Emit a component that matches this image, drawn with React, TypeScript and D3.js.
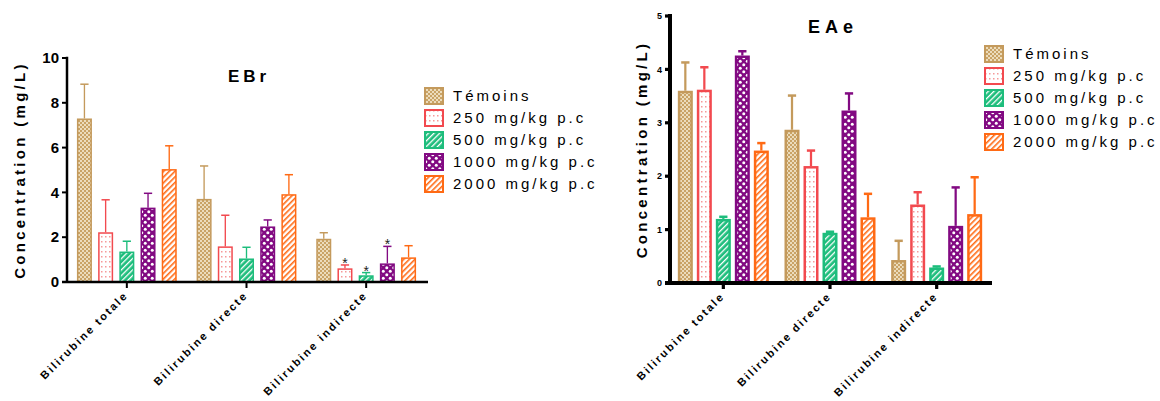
import React from 'react';
import * as d3 from 'd3';

const categories = ['Bilirubine totale', 'Bilirubine directe', 'Bilirubine indirecte'];
const seriesNames = ['Témoins', '250 mg/kg p.c', '500 mg/kg p.c', '1000 mg/kg p.c', '2000 mg/kg p.c'];

// one row per category, one value per series
const ebrMeans = [
  [7.3, 2.22, 1.36, 3.32, 5.04],
  [3.71, 1.59, 1.05, 2.48, 3.92],
  [1.93, 0.61, 0.3, 0.83, 1.1],
];
const ebrErrors = [
  [1.53, 1.45, 0.46, 0.64, 1.04],
  [1.47, 1.39, 0.5, 0.29, 0.87],
  [0.27, 0.15, 0.12, 0.76, 0.52],
];
const ebrStars = [[], [], [1, 2, 3]];
const ebrTicks = [0, 2, 4, 6, 8, 10];

const eaeMeans = [
  [3.6, 3.62, 1.2, 4.26, 2.48],
  [2.87, 2.19, 0.94, 3.23, 1.23],
  [0.43, 1.47, 0.29, 1.07, 1.29],
];
const eaeErrors = [
  [0.53, 0.42, 0.04, 0.08, 0.14],
  [0.64, 0.29, 0.02, 0.32, 0.44],
  [0.36, 0.23, 0.02, 0.72, 0.69],
];
const eaeStars = [[], [], []];
const eaeTicks = [0, 1, 2, 3, 4, 5];

const strokes = ['#c49a5c', '#f24a4f', '#1dbd7c', '#820a82', '#ff6a14'];
const font = '"Liberation Sans", Arial, sans-serif';

function Patterns() {
  return (
    <defs>
      <pattern id="p0" width="4" height="4" patternUnits="userSpaceOnUse">
        <rect width="4" height="4" fill="#c9a366" />
        <rect x="0" y="0" width="2" height="2" fill="#ecdcbc" />
        <rect x="2" y="2" width="2" height="2" fill="#ecdcbc" />
      </pattern>
      <pattern id="p1" width="4" height="5" patternUnits="userSpaceOnUse">
        <rect width="4" height="5" fill="#fff" />
        <rect x="1" y="1" width="1.5" height="1.5" fill="#f59a9a" />
      </pattern>
      <pattern id="p2" width="4" height="4" patternUnits="userSpaceOnUse" patternTransform="rotate(45)">
        <rect width="4" height="4" fill="#1dbd7c" />
        <rect x="0" y="0" width="1.3" height="4" fill="#ffffff" />
      </pattern>
      <pattern id="p3" width="7" height="7" patternUnits="userSpaceOnUse">
        <rect width="7" height="7" fill="#820a82" />
        <circle cx="1.75" cy="1.75" r="1.5" fill="#fff" />
        <circle cx="5.25" cy="5.25" r="1.5" fill="#fff" />
      </pattern>
      <pattern id="p4" width="4" height="4" patternUnits="userSpaceOnUse" patternTransform="rotate(45)">
        <rect width="4" height="4" fill="#fff" />
        <rect x="0" y="0" width="1.6" height="4" fill="#ff6a14" />
      </pattern>
    </defs>
  );
}

type ChartProps = {
  title: string;
  means: number[][];
  errors: number[][];
  stars: number[][];
  ticks: number[];
  left: number;
  right: number;
  top: number;
  bottom: number;
  pitch: number;
  barW: number;
  barStroke: number;
  axisW: number;
  tickFont: number;
  titleX: number;
  titleY: number;
  titleSize: number;
  titleSpacing: number;
  ylabelX: number;
  legendX: number;
  legendY: number;
};

function Chart(p: ChartProps) {
  const y = d3.scaleLinear().domain([0, p.ticks[p.ticks.length - 1]]).range([p.bottom, p.top]);
  const x0 = d3.scaleBand().domain(categories).range([p.left, p.right]);
  const pad = 1 - p.barW / p.pitch;
  const x1 = d3
    .scaleBand()
    .domain(seriesNames)
    .range([-2.5 * p.pitch, 2.5 * p.pitch])
    .paddingInner(pad)
    .paddingOuter(pad / 2);
  const bw = x1.bandwidth();
  const capW = p.barW * 0.55;

  return (
    <g fontFamily={font}>
      {/* bars */}
      {categories.map((c, ci) =>
        seriesNames.map((s, si) => {
          const cx = (x0(c) as number) + x0.bandwidth() / 2;
          const bx = cx + (x1(s) as number);
          const v = p.means[ci][si];
          const e = p.errors[ci][si];
          const mid = bx + bw / 2;
          const yTop = y(v + e);
          return (
            <g key={c + s}>
              <line x1={mid} x2={mid} y1={y(v)} y2={yTop} stroke={strokes[si]} strokeWidth={p.barStroke * 0.9} />
              <line x1={mid - capW / 2} x2={mid + capW / 2} y1={yTop} y2={yTop} stroke={strokes[si]} strokeWidth={p.barStroke} />
              <rect
                x={bx + p.barStroke / 2}
                y={y(v) + p.barStroke / 2}
                width={bw - p.barStroke}
                height={Math.max(0, y(0) - y(v) - p.barStroke / 2)}
                fill={`url(#p${si})`}
                stroke={strokes[si]}
                strokeWidth={p.barStroke}
              />
              {p.stars[ci].includes(si) && (
                <text x={mid} y={yTop + 3} textAnchor="middle" fontSize={14} fill="#222">
                  *
                </text>
              )}
            </g>
          );
        })
      )}

      {/* y axis */}
      <line x1={p.left} x2={p.left} y1={p.top - p.axisW / 2} y2={p.bottom} stroke="#000" strokeWidth={p.axisW} />
      {p.ticks.map((t) => (
        <g key={t} transform={`translate(${p.left},${y(t)})`}>
          <line x1={-5} x2={0} stroke="#000" strokeWidth={p.axisW * 0.8} />
          <text x={-8} dy="0.35em" textAnchor="end" fontSize={p.tickFont} fontWeight="bold">
            {t}
          </text>
        </g>
      ))}

      {/* x axis */}
      <line x1={p.left - 5} x2={p.right + 2} y1={p.bottom} y2={p.bottom} stroke="#000" strokeWidth={p.axisW} />
      {categories.map((c) => {
        const cx = (x0(c) as number) + x0.bandwidth() / 2;
        return (
          <g key={c} transform={`translate(${cx},${p.bottom})`}>
            <line y1={0} y2={6} stroke="#000" strokeWidth={p.axisW * 0.8} />
            <text
              transform="translate(2,14) rotate(-45)"
              textAnchor="end"
              fontSize={11}
              fontWeight="bold"
              letterSpacing={2.1}
            >
              {c}
            </text>
          </g>
        );
      })}

      {/* y label */}
      <text
        transform={`translate(${p.ylabelX},${(p.top + p.bottom) / 2}) rotate(-90)`}
        textAnchor="middle"
        fontSize={15}
        fontWeight="bold"
        letterSpacing={3.3}
      >
        Concentration (mg/L)
      </text>

      {/* title */}
      <text x={p.titleX} y={p.titleY} fontSize={p.titleSize} fontWeight="bold" letterSpacing={p.titleSpacing}>
        {p.title}
      </text>

      {/* legend */}
      {seriesNames.map((s, si) => (
        <g key={s} transform={`translate(${p.legendX},${p.legendY + si * 22})`}>
          <rect x={1} y={1} width={18} height={16} fill={`url(#p${si})`} stroke={strokes[si]} strokeWidth={2} />
          <text x={29} y={9} dy="0.36em" fontSize={15} letterSpacing={3}>
            {s}
          </text>
        </g>
      ))}
    </g>
  );
}

export default function App() {
  return (
    <svg width={1160} height={401} style={{ position: 'absolute', left: 0, top: 0, background: '#fff' }}>
      <Patterns />
      <Chart
        title="EBr"
        means={ebrMeans}
        errors={ebrErrors}
        stars={ebrStars}
        ticks={ebrTicks}
        left={67}
        right={426}
        top={58}
        bottom={282}
        pitch={21.2}
        barW={15}
        barStroke={1.5}
        axisW={2.5}
        tickFont={15}
        titleX={228}
        titleY={82}
        titleSize={17}
        titleSpacing={4}
        ylabelX={25}
        legendX={424}
        legendY={87}
      />
      <Chart
        title="EAe"
        means={eaeMeans}
        errors={eaeErrors}
        stars={eaeStars}
        ticks={eaeTicks}
        left={670}
        right={990}
        top={16}
        bottom={283}
        pitch={19}
        barW={15}
        barStroke={2.5}
        axisW={4}
        tickFont={9}
        titleX={808}
        titleY={33}
        titleSize={18}
        titleSpacing={5}
        ylabelX={647}
        legendX={984}
        legendY={45}
      />
    </svg>
  );
}
